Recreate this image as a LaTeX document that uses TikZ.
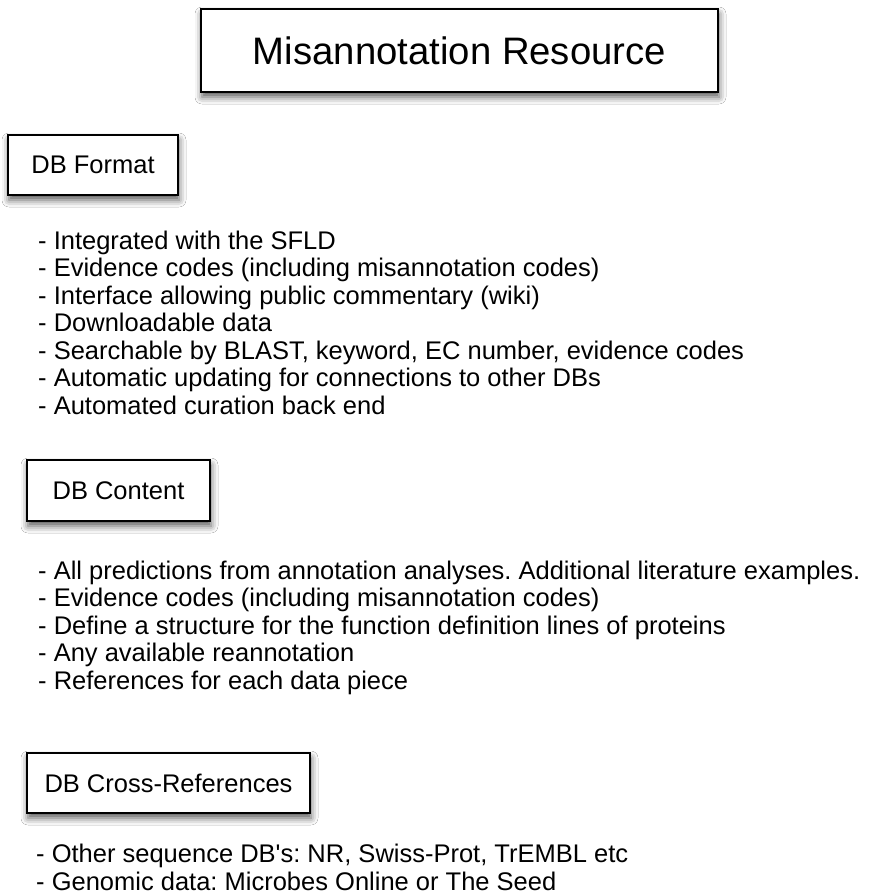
\documentclass[tikz,border=0pt]{standalone}
\usepackage{fontspec}
\setmainfont{Liberation Sans}
\usetikzlibrary{shadows.blur}
\frenchspacing
\begin{document}
\begin{tikzpicture}[x=1pt,y=-1pt,
  box/.style={draw=black, line width=2pt, fill=white, inner sep=0pt,
    blur shadow={shadow xshift=1pt, shadow yshift=-5pt,
      shadow blur radius=7pt, shadow opacity=65}},
  headbox/.style={box, font=\fontsize{25.5}{30}\selectfont},
  titlebox/.style={box, font=\fontsize{38.3}{44}\selectfont},
  item/.style={anchor=base west, inner sep=0pt, font=\fontsize{25.5}{30}\selectfont}]
  % canvas
  \fill[white] (0,0) rectangle (870,895);
  \useasboundingbox (0,0) rectangle (870,895);

  % title
  \node[titlebox, minimum width=517pt, minimum height=83pt] (title) at (459.5,50.5) {Misannotation Resource};

  % DB Format
  \node[headbox, minimum width=170pt, minimum height=60pt] (fmt) at (93,165) {DB Format};
  \node[item] (f1) at (38,249)   {- Integrated with the SFLD};
  \node[item] (f2) at (38,276.5) {- Evidence codes (including misannotation codes)};
  \node[item] (f3) at (38,304)   {- Interface allowing public commentary (wiki)};
  \node[item] (f4) at (38,331.5) {- Downloadable data};
  \node[item] (f5) at (38,359)   {- Searchable by BLAST, keyword, EC number, evidence codes};
  \node[item] (f6) at (38,386.5) {- Automatic updating for connections to other DBs};
  \node[item] (f7) at (38,414)   {- Automated curation back end};

  % DB Content
  \node[headbox, minimum width=183pt, minimum height=61pt] (cnt) at (118.5,490.5) {DB Content};
  \node[item] (c1) at (38,579)   {- All predictions from annotation analyses. Additional literature examples.};
  \node[item] (c2) at (38,606.5) {- Evidence codes (including misannotation codes)};
  \node[item] (c3) at (38,634)   {- Define a structure for the function definition lines of proteins};
  \node[item] (c4) at (38,661.5) {- Any available reannotation};
  \node[item] (c5) at (38,689)   {- References for each data piece};

  % DB Cross-References
  \node[headbox, minimum width=283pt, minimum height=60pt] (xrf) at (168.5,783) {DB Cross-References};
  \node[item] (x1) at (36,862)   {- Other sequence DB\textquotesingle s: NR, Swiss-Prot, TrEMBL etc};
  \node[item] (x2) at (36,890)   {- Genomic data: Microbes Online or The Seed};
\end{tikzpicture}
\end{document}
